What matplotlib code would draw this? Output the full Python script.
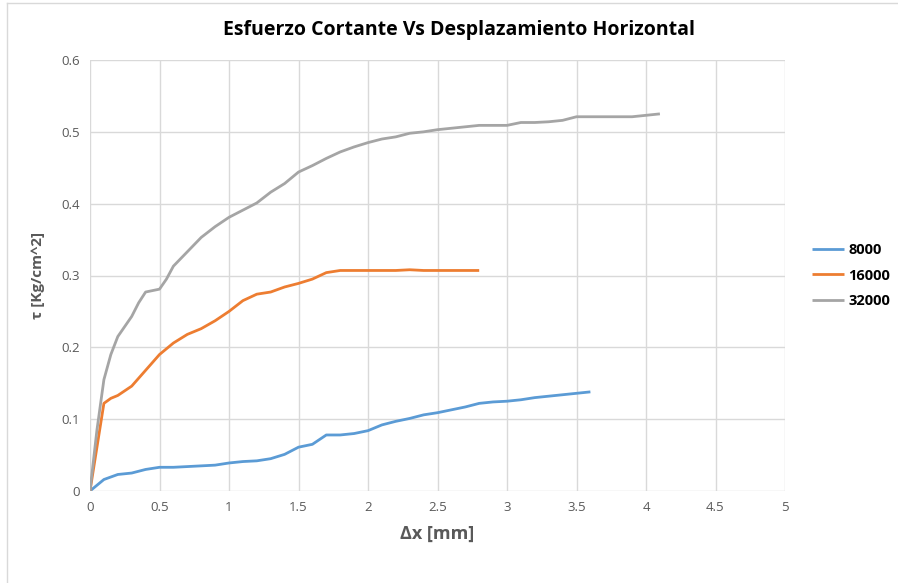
import numpy as np
import matplotlib.pyplot as plt
from matplotlib.lines import Line2D

# Desplazamiento horizontal (mm) y esfuerzo cortante (Kg/cm^2)
x_8000 = [0, 0.1, 0.2, 0.3, 0.4, 0.5, 0.6, 0.7, 0.8, 0.9, 1.0, 1.1, 1.2, 1.3, 1.4,
          1.5, 1.6, 1.7, 1.8, 1.9, 2.0, 2.1, 2.2, 2.3, 2.4, 2.5, 2.6, 2.7, 2.8,
          2.9, 3.0, 3.1, 3.2, 3.3, 3.4, 3.5, 3.6]
t_8000 = [0, 0.016, 0.023, 0.025, 0.030, 0.033, 0.033, 0.034, 0.035, 0.036, 0.039,
          0.041, 0.042, 0.045, 0.051, 0.061, 0.065, 0.078, 0.078, 0.080, 0.084,
          0.092, 0.097, 0.101, 0.106, 0.109, 0.113, 0.117, 0.122, 0.124, 0.125,
          0.127, 0.130, 0.132, 0.134, 0.136, 0.138]

x_16000 = [0, 0.1, 0.15, 0.2, 0.3, 0.4, 0.5, 0.6, 0.7, 0.8, 0.9, 1.0, 1.1, 1.2, 1.3,
           1.4, 1.5, 1.6, 1.7, 1.8, 1.9, 2.0, 2.1, 2.2, 2.3, 2.4, 2.5, 2.6, 2.7, 2.8]
t_16000 = [0, 0.122, 0.129, 0.133, 0.146, 0.168, 0.190, 0.206, 0.218, 0.226, 0.237,
           0.250, 0.265, 0.274, 0.277, 0.284, 0.289, 0.295, 0.304, 0.307, 0.307,
           0.307, 0.307, 0.307, 0.308, 0.307, 0.307, 0.307, 0.307, 0.307]

x_32000 = [0, 0.05, 0.1, 0.15, 0.2, 0.3, 0.35, 0.4, 0.45, 0.5, 0.55, 0.6, 0.7, 0.8,
           0.9, 1.0, 1.1, 1.2, 1.3, 1.4, 1.5, 1.6, 1.7, 1.8, 1.9, 2.0, 2.1, 2.2,
           2.3, 2.4, 2.5, 2.6, 2.7, 2.8, 2.9, 3.0, 3.1, 3.2, 3.3, 3.4, 3.5, 3.6,
           3.7, 3.8, 3.9, 4.0, 4.1]
t_32000 = [0, 0.085, 0.155, 0.190, 0.215, 0.243, 0.262, 0.277, 0.279, 0.281, 0.295,
           0.313, 0.333, 0.353, 0.368, 0.381, 0.391, 0.401, 0.416, 0.428, 0.444,
           0.453, 0.463, 0.472, 0.479, 0.485, 0.490, 0.493, 0.498, 0.500, 0.503,
           0.505, 0.507, 0.509, 0.509, 0.509, 0.513, 0.513, 0.514, 0.516, 0.521,
           0.521, 0.521, 0.521, 0.521, 0.523, 0.525]

labels = ['8000', '16000', '32000']
colors = ['#5b9bd5', '#ed7d31', '#a5a5a5']

plt.rcParams['font.family'] = ['Open Sans', 'DejaVu Sans']

fig = plt.figure(figsize=(8.98, 5.83), dpi=100)
ax = fig.add_axes([90 / 898, 1 - 491 / 583, 695 / 898, 431 / 583])

for xs, ts, lab, c in zip([x_8000, x_16000, x_32000], [t_8000, t_16000, t_32000],
                          labels, colors):
    ax.plot(xs, ts, color=c, lw=2, label=lab, solid_joinstyle='round',
            solid_capstyle='butt')

ax.set_xlim(0, 5)
ax.set_ylim(0, 0.6)
ax.set_xticks(np.arange(0, 5.01, 0.5))
ax.set_xticklabels(['0', '0.5', '1', '1.5', '2', '2.5', '3', '3.5', '4', '4.5', '5'])
ax.set_yticks(np.arange(0, 0.61, 0.1))
ax.set_yticklabels(['0', '0.1', '0.2', '0.3', '0.4', '0.5', '0.6'])
ax.grid(True, color='#d9d9d9', lw=1)
ax.set_axisbelow(True)
for s in ax.spines.values():
    s.set_visible(False)
ax.tick_params(length=0, labelsize=9.5, colors='#595959', pad=7)

ax.set_xlabel('Δx [mm]', fontsize=13, fontweight='bold', color='#595959', labelpad=8)
ax.set_ylabel('τ [Kg/cm^2]', fontsize=11, fontweight='bold', color='#595959', labelpad=12)
fig.text(0.511, 1 - 30 / 583, 'Esfuerzo Cortante Vs Desplazamiento Horizontal',
         ha='center', va='center', fontsize=14, fontweight='bold', color='black')

leg = ax.legend(loc='center left', bbox_to_anchor=(1.02, 0.5), frameon=False,
                handlelength=2.2, handletextpad=0.3, labelspacing=0.8,
                prop={'weight': 'bold', 'size': 10.5})

# borde del area del grafico (solo arriba e izquierda visibles)
fig.add_artist(Line2D([7 / 898, 7 / 898], [0, 1 - 3 / 583], transform=fig.transFigure,
                      color='#d9d9d9', lw=1))
fig.add_artist(Line2D([7 / 898, 1], [1 - 3 / 583, 1 - 3 / 583], transform=fig.transFigure,
                      color='#d9d9d9', lw=1))

fig.savefig('out.png', dpi=100)
